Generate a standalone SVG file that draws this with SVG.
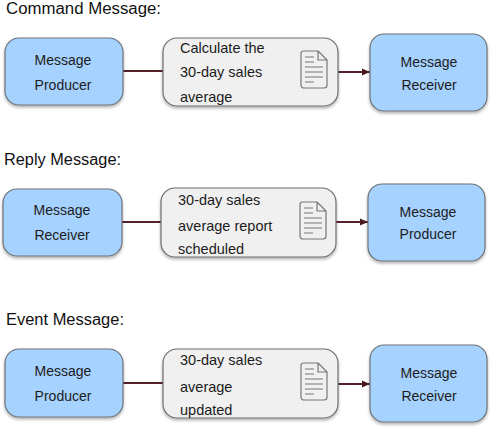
<svg xmlns="http://www.w3.org/2000/svg" width="491" height="429" viewBox="0 0 491 429">
<defs>
<filter id="sh" x="-10%" y="-10%" width="120%" height="125%"><feDropShadow dx="0" dy="2" stdDeviation="1.5" flood-color="#000" flood-opacity="0.3"/></filter>
<marker id="arr" markerUnits="userSpaceOnUse" markerWidth="9" markerHeight="8" refX="8" refY="4" orient="auto"><path d="M0 0.5L8 4L0 7.5Z" fill="#4a1a20"/></marker>
<g id="doc"><path d="M2.5 0H17L26 9V34Q26 37 23 37H3Q0 37 0 34V2.5Q0 0 2.5 0Z M17 0V9H26" fill="none" stroke="#777" stroke-width="1.2" stroke-linejoin="round"/><path d="M4 6H13M4 11H13M4 16H22M4 21H22M4 26H22M4 31H13" fill="none" stroke="#777" stroke-width="1"/></g>
</defs>
<style>
.blue{fill:#a6d2ff;stroke:#6e7378;stroke-width:1.2;filter:url(#sh)}
.grey{fill:#f0f0f0;stroke:#6e6e6e;stroke-width:1.2;filter:url(#sh)}
.conn{fill:none;stroke:#55202a;stroke-width:2}
text{font-family:"Liberation Sans",Arial,sans-serif;fill:#1c1c1c;font-size:14px}
.c{text-anchor:middle}
.m{font-size:14.5px}
.h{font-size:16px;fill:#111}
</style>
<text class="h" x="6" y="14" textLength="155" lengthAdjust="spacingAndGlyphs">Command Message:</text>
<text class="h" x="4" y="165" textLength="117" lengthAdjust="spacingAndGlyphs">Reply Message:</text>
<text class="h" x="6" y="325" textLength="118" lengthAdjust="spacingAndGlyphs">Event Message:</text>
<g id="connectors">
<path class="conn" d="M123 71H163"/><path class="conn" marker-end="url(#arr)" d="M338 72H370"/>
<path class="conn" d="M122 222H161"/><path class="conn" marker-end="url(#arr)" d="M336 222H368"/>
<path class="conn" d="M123 383H163"/><path class="conn" marker-end="url(#arr)" d="M338 384H370"/>
</g>
<g id="cmd-producer"><rect class="blue" x="5" y="38" width="118" height="67" rx="14"/><text class="c" x="63" y="65">Message</text><text class="c" x="63" y="90">Producer</text></g>
<g id="cmd-message"><rect class="grey" x="163" y="38" width="175" height="68" rx="14"/><text class="m" x="180" y="53">Calculate the</text><text class="m" x="180" y="77">30-day sales</text><text class="m" x="180" y="102">average</text><use href="#doc" x="301" y="51"/></g>
<g id="cmd-receiver"><rect class="blue" x="370" y="34" width="117" height="77" rx="14"/><text class="c" x="429" y="67">Message</text><text class="c" x="429" y="90">Receiver</text></g>
<g id="reply-receiver"><rect class="blue" x="3" y="189" width="119" height="67" rx="14"/><text class="c" x="62" y="215">Message</text><text class="c" x="62" y="240">Receiver</text></g>
<g id="reply-message"><rect class="grey" x="161" y="188" width="175" height="69" rx="14"/><text class="m" x="178" y="205">30-day sales</text><text class="m" x="178" y="231">average report</text><text class="m" x="178" y="254">scheduled</text><use href="#doc" x="300" y="202"/></g>
<g id="reply-producer"><rect class="blue" x="368" y="184" width="117" height="77" rx="14"/><text class="c" x="428" y="217">Message</text><text class="c" x="428" y="239">Producer</text></g>
<g id="event-producer"><rect class="blue" x="5" y="349" width="118" height="68" rx="14"/><text class="c" x="63" y="376">Message</text><text class="c" x="63" y="401">Producer</text></g>
<g id="event-message"><rect class="grey" x="163" y="349" width="175" height="69" rx="14"/><text class="m" x="180" y="365">30-day sales</text><text class="m" x="180" y="392">average</text><text class="m" x="180" y="415">updated</text><use href="#doc" x="301" y="363"/></g>
<g id="event-receiver"><rect class="blue" x="370" y="345" width="117" height="77" rx="14"/><text class="c" x="429" y="378">Message</text><text class="c" x="429" y="401">Receiver</text></g>
</svg>
